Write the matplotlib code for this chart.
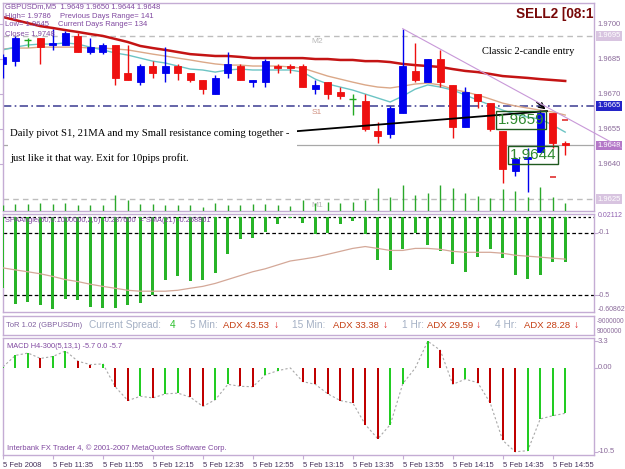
import matplotlib
matplotlib.use("Agg")
import matplotlib.pyplot as plt
from matplotlib.patches import Rectangle
import matplotlib.transforms as mtransforms

W, H = 625, 469
plt.rcParams['font.family'] = ['Liberation Sans', 'DejaVu Sans']

# ---------------- data (GBPUSDm, M5, 5 Feb 2008) ----------------
opens  = [1.9683, 1.9684, 1.9693, 1.9694, 1.9691, 1.9691, 1.9695, 1.9688, 1.9688, 1.9691,
          1.9679, 1.9675, 1.9682, 1.9679, 1.9682, 1.9679, 1.9676, 1.9670, 1.9679, 1.9682,
          1.9675, 1.9675, 1.9682, 1.9682, 1.9682, 1.9672, 1.9675, 1.9671, 1.9668, 1.9667,
          1.9654, 1.9653, 1.9662, 1.9680, 1.9675, 1.9685, 1.9674, 1.9656, 1.9670, 1.9666,
          1.9654, 1.9637, 1.9642, 1.9645, 1.9662, 1.9649]
highs  = [1.9687, 1.9695, 1.9694, 1.9694, 1.9698, 1.9697, 1.9696, 1.9694, 1.9692, 1.9691,
          1.9691, 1.9683, 1.9684, 1.9690, 1.9683, 1.9679, 1.9676, 1.9678, 1.9688, 1.9683,
          1.9676, 1.9685, 1.9683, 1.9683, 1.9683, 1.9676, 1.9675, 1.9673, 1.9670, 1.9670,
          1.9658, 1.9665, 1.9698, 1.9692, 1.9685, 1.9689, 1.9674, 1.9673, 1.9670, 1.9666,
          1.9654, 1.9643, 1.9647, 1.9663, 1.9662, 1.9650]
lows   = [1.9677, 1.9682, 1.9690, 1.9683, 1.9689, 1.9691, 1.9688, 1.9687, 1.9687, 1.9674,
          1.9676, 1.9674, 1.9677, 1.9675, 1.9676, 1.9675, 1.9670, 1.9670, 1.9677, 1.9676,
          1.9673, 1.9673, 1.9679, 1.9679, 1.9673, 1.9670, 1.9668, 1.9668, 1.9661, 1.9654,
          1.9649, 1.9651, 1.9662, 1.9675, 1.9675, 1.9673, 1.9651, 1.9656, 1.9664, 1.9654,
          1.9632, 1.9635, 1.9628, 1.9645, 1.9647, 1.9644]
closes = [1.9686, 1.9694, 1.9693, 1.9690, 1.9692, 1.9696, 1.9688, 1.9690, 1.9691, 1.9677,
          1.9676, 1.9682, 1.9679, 1.9682, 1.9679, 1.9676, 1.9672, 1.9677, 1.9683, 1.9676,
          1.9676, 1.9684, 1.9681, 1.9681, 1.9673, 1.9674, 1.9670, 1.9669, 1.9668, 1.9655,
          1.9652, 1.9664, 1.9682, 1.9676, 1.9685, 1.9675, 1.9656, 1.9671, 1.9667, 1.9655,
          1.9638, 1.9642, 1.9643, 1.9662, 1.9649, 1.9648]

ma_slow = [1.97030, 1.97017, 1.97004, 1.96991, 1.96983, 1.96974, 1.96966, 1.96957, 1.96949, 1.96936,
           1.96923, 1.96906, 1.96897, 1.96889, 1.96880, 1.96871, 1.96867, 1.96863, 1.96863, 1.96859,
           1.96854, 1.96854, 1.96854, 1.96854, 1.96854, 1.96850, 1.96850, 1.96846, 1.96846, 1.96841,
           1.96841, 1.96837, 1.96829, 1.96824, 1.96820, 1.96816, 1.96807, 1.96799, 1.96794, 1.96786,
           1.96777, 1.96773, 1.96769, 1.96764, 1.96760, 1.96756]
ma_mid  = [1.96893, 1.96897, 1.96897, 1.96901, 1.96901, 1.96901, 1.96901, 1.96897, 1.96897, 1.96893,
           1.96889, 1.96880, 1.96871, 1.96863, 1.96854, 1.96846, 1.96837, 1.96829, 1.96824, 1.96824,
           1.96820, 1.96820, 1.96820, 1.96816, 1.96811, 1.96794, 1.96777, 1.96764, 1.96751, 1.96739,
           1.96730, 1.96726, 1.96734, 1.96743, 1.96747, 1.96739, 1.96721, 1.96709, 1.96696, 1.96679,
           1.96661, 1.96649, 1.96640, 1.96631, 1.96623, 1.96610]
ma_fast = [1.96889, 1.96901, 1.96910, 1.96914, 1.96914, 1.96919, 1.96914, 1.96901, 1.96889, 1.96876,
           1.96867, 1.96854, 1.96841, 1.96833, 1.96820, 1.96807, 1.96803, 1.96794, 1.96803, 1.96807,
           1.96803, 1.96803, 1.96803, 1.96803, 1.96794, 1.96764, 1.96743, 1.96730, 1.96717, 1.96700,
           1.96683, 1.96666, 1.96691, 1.96721, 1.96739, 1.96730, 1.96717, 1.96696, 1.96674, 1.96653,
           1.96631, 1.96614, 1.96601, 1.96593, 1.96567, 1.96537]

volumes = [30, 35, 35, 40, 35, 40, 30, 30, 30, 80,
           55, 35, 35, 30, 30, 30, 20, 40, 30, 30,
           35, 35, 30, 25, 55, 40, 45, 40, 45, 55,
           115, 70, 130, 80, 90, 130, 115, 90, 75, 65,
           110, 100, 70, 120, 70, 40]

spa_angle = [-0.456, -0.556, -0.544, -0.563, -0.587, -0.525, -0.531, -0.575, -0.581, -0.581,
             -0.563, -0.550, -0.500, -0.400, -0.375, -0.410, -0.406, -0.356, -0.238, -0.138,
             -0.131, -0.094, -0.044, -0.004, -0.037, -0.106, -0.100, -0.044, -0.025, -0.110,
             -0.275, -0.340, -0.206, -0.100, -0.175, -0.218, -0.300, -0.350, -0.256, -0.206,
             -0.263, -0.369, -0.394, -0.369, -0.288, -0.2876]
spa_sma = [-0.325, -0.338, -0.350, -0.363, -0.380, -0.400, -0.413, -0.430, -0.444, -0.456,
           -0.469, -0.475, -0.475, -0.475, -0.469, -0.456, -0.444, -0.425, -0.400, -0.375,
           -0.350, -0.331, -0.306, -0.281, -0.269, -0.256, -0.238, -0.219, -0.200, -0.188,
           -0.200, -0.213, -0.213, -0.200, -0.200, -0.206, -0.219, -0.225, -0.225, -0.225,
           -0.231, -0.244, -0.250, -0.256, -0.263, -0.2688]

macd = [0.10, 1.53, 1.82, 1.15, 1.40, 2.08, 0.80, 0.38, 0.47, -2.42,
        -4.11, -3.57, -3.78, -3.27, -3.18, -3.69, -4.84, -3.99, -2.08, -2.33,
        -2.38, -0.89, -0.38, -0.04, -1.75, -2.08, -3.27, -4.11, -4.42, -7.10,
        -8.88, -7.10, -2.00, -0.04, 3.30, 2.17, -2.08, -1.44, -1.87, -4.42,
        -9.08, -10.50, -10.36, -6.40, -6.00, -5.70]

price_ticks = [1.9700, 1.9685, 1.9670, 1.9655, 1.9640]
pivot_levels = {"M2": 1.9695, "S1": 1.9665, "M1": 1.9625}
last_price = 1.9648
marked_levels = [1.9659, 1.9644]
band_marks_x = [45, 44]
band_marks_y = [1.96589, 1.96344]
time_ticks = list(range(0, 46, 4))
time_labels = ["5 Feb 2008", "5 Feb 11:35", "5 Feb 11:55", "5 Feb 12:15", "5 Feb 12:35",
               "5 Feb 12:55", "5 Feb 13:15", "5 Feb 13:35", "5 Feb 13:55", "5 Feb 14:15",
               "5 Feb 14:35", "5 Feb 14:55"]

n = len(closes)
xs = list(range(n))

# ---------------- layout helpers ----------------
FRAME = '#c4acd4'
LBL = '#8a6a9a'
fig = plt.figure(figsize=(W / 100, H / 100), dpi=100)
fig.patch.set_facecolor('white')


def add_ax(l, t, r, b):
    a = fig.add_axes([l / W, 1 - b / H, (r - l) / W, (b - t) / H])
    for s in a.spines.values():
        s.set_color(FRAME)
        s.set_linewidth(1)
    a.set_facecolor('white')
    return a


def ftxt(x, y, s, **kw):
    kw.setdefault('va', 'center')
    kw.setdefault('ha', 'left')
    return fig.text(x / W, 1 - y / H, s, **kw)


def rlabel(axis, y, s, fc=None, color=LBL, size=5.5):
    tr = mtransforms.blended_transform_factory(axis.transAxes, axis.transData)
    kw = {}
    if fc:
        kw['bbox'] = dict(boxstyle='square,pad=0.18', fc=fc, ec='none')
    axis.text(1.006, y, s, transform=tr, ha='left', va='center', fontsize=size,
              color=color, clip_on=False, zorder=7, **kw)


XL, XR = (3 - 2.7) / 12.5, (594 - 2.7) / 12.5

# ---------------- main price panel ----------------
ax = add_ax(3, 3, 594, 211)
ax.set_xlim(XL, XR)
ax.set_ylim(1.96199, 1.97090)
ax.set_xticks([])
ax.yaxis.set_ticks_position('right')
ax.set_yticks(price_ticks)
ax.set_yticklabels([])
ax.tick_params(axis='y', length=3, color=FRAME)

# pivot lines
ax.axhline(pivot_levels["M2"], color='#bdbdbd', lw=1, ls=(0, (4, 3)), zorder=1)
ax.axhline(pivot_levels["S1"], color='#4a4a9a', lw=1.2, ls=(0, (5, 2, 1, 2)), zorder=1)
ax.axhline(pivot_levels["M1"], color='#bdbdbd', lw=1, ls=(0, (4, 3)), zorder=1)
ax.axhline(last_price, color='#a8a8a8', lw=0.9, zorder=1)
ax.text(24.7, 1.96927, "M2", color='#b8b8b8', fontsize=6, va='center')
ax.text(24.7, 1.96623, "S1", color='#d09080', fontsize=6, va='center')
ax.text(24.7, 1.96224, "M1", color='#b8b8b8', fontsize=6, va='center')

# moving averages
ax.plot(xs, ma_slow, color='#c41414', lw=1.8, zorder=2)
ax.plot(xs, ma_mid, color='#dba888', lw=1, zorder=2)
ax.plot(xs, ma_fast, color='#6cc4c4', lw=1, zorder=2)

# candles
for i, (o, h, l, c) in enumerate(zip(opens, highs, lows, closes)):
    if c > o:
        col = '#0000ee'
    elif c < o:
        col = '#ee1010'
    else:
        col = '#22aa22'
    ax.vlines(i, l, h, color=col, lw=1, zorder=4)
    if c == o:
        ax.hlines(c, i - 0.3, i + 0.3, color=col, lw=1, zorder=4)
    else:
        ax.add_patch(Rectangle((i - 0.28, min(o, c)), 0.56, abs(c - o), fc=col, ec=col,
                               lw=0.6, zorder=4))

ax.plot(band_marks_x, band_marks_y, ls='none', marker='_', ms=4, mew=1.2, color='#e03030', zorder=5)

# trend lines
ax.plot([32, 49.5], [highs[32], 1.96470], color='#c898d8', lw=0.8, zorder=8, clip_on=False)
ax.plot([23.54, 43.54], [1.96541, 1.96627], color='black', lw=1.3, zorder=5)
ax.annotate('', xy=(43.6, 1.96627), xytext=(42.55, 1.96672),
            arrowprops=dict(arrowstyle='->', color='black', lw=1), zorder=6)

# marked price boxes
ax.text(41.46, marked_levels[0], f"{marked_levels[0]:.4f}", color='#2f8a2f', fontsize=11,
        ha='center', va='center', zorder=6,
        bbox=dict(boxstyle='square,pad=0.12', fc='none', ec='#1f5a1f', lw=1))
ax.text(42.4, marked_levels[1], f"{marked_levels[1]:.4f}", color='#2f8a2f', fontsize=11,
        ha='center', va='center', zorder=6,
        bbox=dict(boxstyle='square,pad=0.12', fc='none', ec='#1f5a1f', lw=1))

# price scale labels
for p in price_ticks:
    rlabel(ax, p, f"{p:.4f}")
rlabel(ax, pivot_levels["M2"], f"{pivot_levels['M2']:.4f}", fc='#d8c4e0', color='white')
rlabel(ax, pivot_levels["S1"], f"{pivot_levels['S1']:.4f}", fc='#2424c8', color='white')
rlabel(ax, last_price, f"{last_price:.4f}", fc='#b478c8', color='white')
rlabel(ax, pivot_levels["M1"], f"{pivot_levels['M1']:.4f}", fc='#d8c4e0', color='white')

# volumes
axv = ax.twinx()
axv.set_ylim(0, 1040)
axv.set_xlim(XL, XR)
axv.vlines(xs, 0, volumes, color='#2aa82a', lw=1)
axv.set_axis_off()

# info text
PUR = '#8048a0'
ftxt(5, 7, f"GBPUSDm,M5  {opens[-1]:.4f} {highs[-1]:.4f} {lows[-1]:.4f} {closes[-1]:.4f}",
     color=PUR, fontsize=5.5)
ftxt(5, 16, "High= 1.9786", color=PUR, fontsize=5.5)
ftxt(60, 16, "Previous Days Range= 141", color=PUR, fontsize=5.5)
ftxt(5, 25, "Low= 1.9645", color=PUR, fontsize=5.5)
ftxt(58, 25, "Current Days Range= 134", color=PUR, fontsize=5.5)
ftxt(5, 34, "Close= 1.9748", color=PUR, fontsize=5.5)
ftxt(593, 14, "SELL2 [08:1", color='#780808', fontsize=9.8, weight='bold', ha='right')
ftxt(482, 51, "Classic 2-candle entry", color='black', fontsize=7.5, family='Liberation Serif')

fig.add_artist(Rectangle((8 / W, 1 - 172 / H), 289 / W, 54 / H, transform=fig.transFigure,
                         fc='white', ec='none', zorder=1))
ftxt(10, 133, "Daily pivot S1, 21MA and my Small resistance coming together -",
     color='black', fontsize=7.7, family='Liberation Serif', zorder=2)
ftxt(10, 158, "just like it that way. Exit for 10pips profit.",
     color='black', fontsize=7.7, family='Liberation Serif', zorder=2)

# ---------------- SPAAngle panel ----------------
ax2 = add_ax(3, 214, 594, 312)
ax2.set_xlim(XL, XR)
ax2.set_ylim(-0.60862, 0.02112)
ax2.set_xticks([])
ax2.yaxis.set_ticks_position('right')
ax2.set_yticks([-0.1, -0.5])
ax2.set_yticklabels([])
ax2.tick_params(axis='y', length=3, color=FRAME)
ax2.axhline(0, color='black', lw=0.9, ls=(0, (2, 2)))
ax2.axhline(-0.1, color='black', lw=0.9, ls=(0, (3, 2)))
ax2.axhline(-0.5, color='black', lw=0.9, ls=(0, (3, 2)))
ax2.bar(xs, spa_angle, width=0.22, color='#28b428', zorder=3)
ax2.plot(xs, spa_sma, color='#d4a898', lw=0.9, zorder=4)
ax2.text(0.004, 0.93, "SPAAngle(50,0.1000000,2,0) -0.287600  = SMA(21) -0.268801",
         transform=ax2.transAxes, color=PUR, fontsize=5.3, va='center')
rlabel(ax2, 0.012, "0.02112", color='#9060b0', size=5)
rlabel(ax2, -0.1, "-0.1", size=5)
rlabel(ax2, -0.5, "-0.5", size=5)
rlabel(ax2, -0.59, "-0.60862", size=5)

# ---------------- ToR panel ----------------
ax3 = add_ax(3, 316, 594, 335)
ax3.set_xticks([])
ax3.set_yticks([])
GRY = '#a4b0c4'
ADX = '#c43c10'
ftxt(6, 325, "ToR 1.02 (GBPUSDm)", color='#8060a0', fontsize=5.5)
ftxt(89, 325, "Current Spread:", color=GRY, fontsize=7.3)
ftxt(170, 325, "4", color='#30c030', fontsize=7.3)
ftxt(190, 325, "5 Min:", color=GRY, fontsize=7.3)
ftxt(223, 325, "ADX 43.53", color=ADX, fontsize=6.8)
ftxt(274, 325, "↓", color='#e02020', fontsize=7.5, weight='bold')
ftxt(292, 325, "15 Min:", color=GRY, fontsize=7.3)
ftxt(333, 325, "ADX 33.38", color=ADX, fontsize=6.8)
ftxt(383, 325, "↓", color='#e02020', fontsize=7.5, weight='bold')
ftxt(402, 325, "1 Hr:", color=GRY, fontsize=7.3)
ftxt(427, 325, "ADX 29.59", color=ADX, fontsize=6.8)
ftxt(476, 325, "↓", color='#e02020', fontsize=7.5, weight='bold')
ftxt(495, 325, "4 Hr:", color=GRY, fontsize=7.3)
ftxt(524, 325, "ADX 28.28", color=ADX, fontsize=6.8)
ftxt(574, 325, "↓", color='#e02020', fontsize=7.5, weight='bold')
ftxt(597, 321, "-9000000", color=LBL, fontsize=4.8)
ftxt(597, 331, "9000000", color=LBL, fontsize=4.8)

# ---------------- MACD panel ----------------
ax4 = add_ax(3, 338, 594, 455)
ax4.set_xlim(XL, XR)
ax4.set_ylim(-10.9, 3.7)
ax4.yaxis.set_ticks_position('right')
ax4.set_yticks([3.3, 0, -10.5])
ax4.set_yticklabels([])
ax4.tick_params(axis='y', length=3, color=FRAME)
macd_colors = ['#22cc22'] + ['#22cc22' if macd[i] > macd[i - 1] else '#c00000'
                             for i in range(1, n)]
ax4.bar(xs, macd, width=0.16, color=macd_colors, zorder=3)
ax4.plot(xs, macd, color='#a8a8a8', lw=0.8, ls=(0, (2, 2)), zorder=2)
ax4.text(0.006, 0.93, f"MACD H4-300(5,13,1) {macd[-1]:.1f} 0.0 {macd[-1]:.1f}",
         transform=ax4.transAxes, color=PUR, fontsize=5.3, va='center')
ax4.text(0.006, 0.055, "Interbank FX Trader 4, \u00a9 2001-2007 MetaQuotes Software Corp.",
         transform=ax4.transAxes, color=PUR, fontsize=5.5, va='center')
rlabel(ax4, 3.3, "3.3")
rlabel(ax4, 0, "0.00")
rlabel(ax4, -10.5, "-10.5")
ax4.set_xticks(time_ticks)
ax4.set_xticklabels(time_labels, ha='left', fontsize=5.5, color='#45305a')
ax4.tick_params(axis='x', length=3, color=FRAME, pad=2)

fig.savefig("out.png", dpi=100)
